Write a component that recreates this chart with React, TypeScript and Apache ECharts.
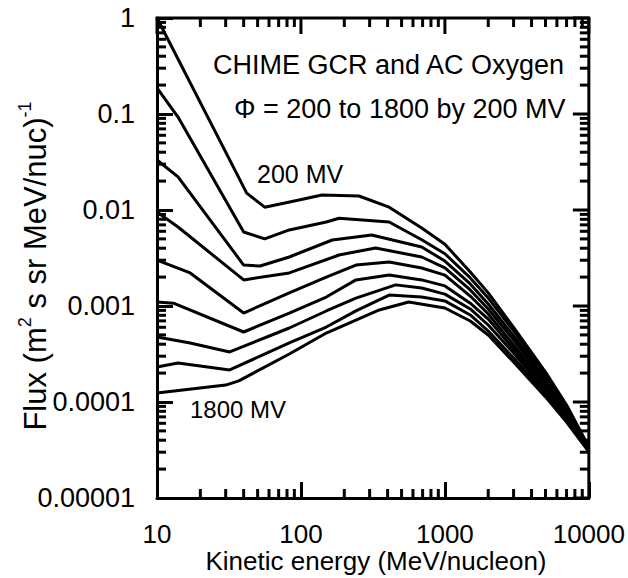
import React, { useEffect, useRef } from "react";
import * as echarts from "echarts";

// Kinetic energy (MeV/nucleon) vs flux, one list per modulation potential
const phiLabels = ["200 MV", "400 MV", "600 MV", "800 MV", "1000 MV", "1200 MV", "1400 MV", "1600 MV", "1800 MV"];

const curve200 = [[10, 1], [42, 0.015], [56, 0.0107], [97, 0.0127], [140, 0.0143], [253, 0.014], [410, 0.0107], [690, 0.0065], [1000, 0.0044], [1500, 0.00226], [2000, 0.00137], [3000, 0.0006], [5000, 0.000205], [7000, 0.000093], [10000, 0.000034]];
const curve400 = [[10, 0.187], [14, 0.093], [40, 0.0059], [56, 0.005], [83, 0.0062], [150, 0.0075], [184, 0.0082], [410, 0.0075], [690, 0.0049], [1000, 0.0035], [1500, 0.00196], [2000, 0.00121], [3000, 0.00055], [5000, 0.000191], [7000, 0.0000887], [10000, 0.0000332]];
const curve600 = [[10, 0.0332], [14, 0.0221], [40, 0.00267], [52, 0.00261], [83, 0.00324], [165, 0.00487], [310, 0.00549], [690, 0.00412], [1000, 0.00294], [1500, 0.0017], [2000, 0.00105], [3000, 0.000487], [5000, 0.000178], [7000, 0.0000845], [10000, 0.0000332]];
const curve800 = [[10, 0.00953], [14, 0.00665], [40, 0.00187], [83, 0.00221], [184, 0.0034], [330, 0.00402], [690, 0.00324], [1000, 0.00249], [1500, 0.00147], [2000, 0.000931], [3000, 0.000442], [5000, 0.000166], [7000, 0.0000806], [10000, 0.0000324]];
const curve1000 = [[10, 0.00301], [17, 0.00221], [40, 0.000845], [83, 0.00137], [150, 0.002], [241, 0.00267], [410, 0.00287], [690, 0.00249], [1000, 0.0021], [1500, 0.00127], [2000, 0.000825], [3000, 0.000393], [5000, 0.000154], [7000, 0.0000768], [10000, 0.0000324]];
const curve1200 = [[10, 0.0011], [13, 0.00107], [40, 0.000536], [83, 0.000845], [150, 0.00124], [241, 0.00187], [410, 0.0021], [690, 0.00187], [1000, 0.00162], [1500, 0.00107], [2000, 0.000732], [3000, 0.000357], [5000, 0.00014], [7000, 0.0000715], [10000, 0.0000316]];
const curve1400 = [[10, 0.000475], [17, 0.000412], [32, 0.000332], [83, 0.00059], [150, 0.000887], [241, 0.00121], [455, 0.00166], [690, 0.00154], [1000, 0.00133], [1500, 0.000931], [2000, 0.000634], [3000, 0.000324], [5000, 0.00013], [7000, 0.0000681], [10000, 0.0000309]];
const curve1600 = [[10, 0.000232], [14, 0.000255], [32, 0.000216], [83, 0.000412], [150, 0.000604], [241, 0.00089], [410, 0.0013], [690, 0.00124], [1000, 0.00113], [1500, 0.000806], [2000, 0.000549], [3000, 0.000287], [5000, 0.000121], [7000, 0.0000649], [10000, 0.0000309]];
const curve1800 = [[10, 0.000124], [30, 0.00015], [37, 0.000166], [83, 0.000316], [150, 0.000523], [350, 0.00091], [560, 0.0011], [1000, 0.000953], [1500, 0.000698], [2000, 0.000499], [3000, 0.000261], [5000, 0.000113], [7000, 0.0000619], [10000, 0.0000302]];

const curves = [curve200, curve400, curve600, curve800, curve1000, curve1200, curve1400, curve1600, curve1800];

const xTickLabels = ["10", "100", "1000", "10000"];
const yTickLabels = ["0.00001", "0.0001", "0.001", "0.01", "0.1", "1"];
const xDecades = [10, 100, 1000];
const yDecades = [0.00001, 0.0001, 0.001, 0.01, 0.1];
const minorMultipliers = [2, 3, 4, 5, 6, 7, 8, 9];

const X_MIN = 10, X_MAX = 10000, Y_MIN = 0.00001, Y_MAX = 1;
const FONT = '"Liberation Sans", Arial, Helvetica, sans-serif';
const MAJOR = 16, MINOR = 9;

export default function App() {
  const ref = useRef<HTMLDivElement>(null);
  useEffect(() => {
    document.body.style.margin = "0";
    if (!ref.current) return;
    const chart = echarts.init(ref.current, undefined, { renderer: "svg" });

    const lineSeries = curves.map((c, i) => ({
      type: "line",
      name: phiLabels[i],
      data: c,
      showSymbol: false,
      symbol: "none",
      lineStyle: { color: "#000", width: 3 },
      z: 3,
    }));

    const mkText = () => [
      { type: "text", x: 213, y: 65, style: { text: "CHIME GCR and AC Oxygen", fontSize: 27, fontFamily: FONT, fill: "#000", align: "left", verticalAlign: "middle" } },
      { type: "text", x: 234, y: 109, style: { text: "Φ = 200 to 1800 by 200 MV", fontSize: 27, fontFamily: FONT, fill: "#000", align: "left", verticalAlign: "middle" } },
      { type: "text", x: 257, y: 174, style: { text: phiLabels[0], fontSize: 25, fontFamily: FONT, fill: "#000", align: "left", verticalAlign: "middle" } },
      { type: "text", x: 190, y: 409, style: { text: phiLabels[8], fontSize: 24, fontFamily: FONT, fill: "#000", align: "left", verticalAlign: "middle" } },
      { type: "text", x: 376, y: 561, style: { text: "Kinetic energy (MeV/nucleon)", fontSize: 26, fontFamily: FONT, fill: "#000", align: "center", verticalAlign: "middle" } },
      {
        type: "text", x: 35, y: 266, rotation: Math.PI / 2,
        style: {
          text: "{m|Flux (m}{s|2}{m| s sr MeV/nuc)}{s|-1}",
          align: "center", verticalAlign: "middle",
          rich: {
            m: { fontSize: 31, fontFamily: FONT, fill: "#000", lineHeight: 39 },
            s: { fontSize: 18, fontFamily: FONT, fill: "#000", lineHeight: 18, verticalAlign: "top" },
          },
        },
      },
    ];

    chart.setOption({
      animation: false,
      backgroundColor: "#fff",
      grid: { left: 157, right: 37, top: 18, bottom: 80 },
      xAxis: {
        type: "log", logBase: 10, min: X_MIN, max: X_MAX, splitNumber: 3,
        axisLine: { show: true, lineStyle: { color: "#000", width: 3 } },
        axisTick: { show: true, inside: true, length: MAJOR, lineStyle: { color: "#000", width: 3 } },
        splitLine: { show: false },
        axisLabel: {
          margin: 23, fontSize: 26, color: "#000", fontFamily: FONT,
          formatter: (v: number) => xTickLabels[Math.round(Math.log10(v)) - 1] ?? "",
        },
      },
      yAxis: {
        type: "log", logBase: 10, min: Y_MIN, max: Y_MAX, splitNumber: 5,
        axisLine: { show: true, lineStyle: { color: "#000", width: 3 } },
        axisTick: { show: true, inside: true, length: MAJOR, lineStyle: { color: "#000", width: 3 } },
        splitLine: { show: false },
        axisLabel: {
          margin: 22, fontSize: 27, color: "#000", fontFamily: FONT,
          formatter: (v: number) => yTickLabels[Math.round(Math.log10(v)) + 5] ?? "",
        },
      },
      series: lineSeries,
      graphic: mkText(),
    });

    // Frame (top/right) and tick marks placed through the chart's own log scales
    try {
      const toPx = (x: number, y: number) => chart.convertToPixel({ xAxisIndex: 0, yAxisIndex: 0 }, [x, y]) as number[];
      const lo = toPx(X_MIN, Y_MIN);
      const hi = toPx(X_MAX, Y_MAX);
      const marks: any[] = [];
      const seg = (x1: number, y1: number, x2: number, y2: number, w: number) =>
        marks.push({ type: "line", z: 50, shape: { x1, y1, x2, y2 }, style: { stroke: "#000", lineWidth: w } });
      seg(lo[0] - 1.5, hi[1], hi[0] + 1.5, hi[1], 3);
      seg(hi[0], hi[1], hi[0], lo[1], 3);
      const addX = (v: number, len: number, both: boolean) => {
        const x = toPx(v, Y_MIN)[0];
        if (both) seg(x, lo[1], x, lo[1] - len, 3);
        seg(x, hi[1], x, hi[1] + len, 3);
      };
      const addY = (v: number, len: number, both: boolean) => {
        const y = toPx(X_MIN, v)[1];
        if (both) seg(lo[0], y, lo[0] + len, y, 3);
        seg(hi[0], y, hi[0] - len, y, 3);
      };
      xDecades.forEach((d) => minorMultipliers.forEach((m) => addX(d * m, MINOR, true)));
      xTickLabels.forEach((t) => addX(Number(t), MAJOR, false));
      yDecades.forEach((d) => minorMultipliers.forEach((m) => addY(d * m, MINOR, true)));
      yTickLabels.forEach((t) => addY(Number(t), MAJOR, false));
      chart.setOption({ graphic: [...mkText(), ...marks] });
    } catch (e) {
      // keep the chart without the extra marks
    }

    return () => chart.dispose();
  }, []);
  return <div ref={ref} style={{ width: 628, height: 578 }} />;
}
